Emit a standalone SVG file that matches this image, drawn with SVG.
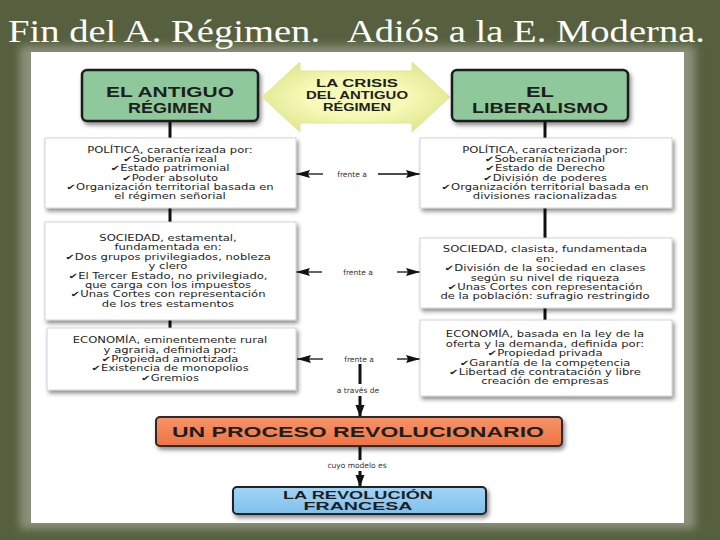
<svg xmlns="http://www.w3.org/2000/svg" width="720" height="540" viewBox="0 0 720 540">
<style>
.t{font-family:"DejaVu Sans","Noto Sans",sans-serif;font-size:8px;fill:#1e1e1e;text-anchor:middle}
.h{font-family:"Liberation Sans",Arial,sans-serif;font-weight:bold;fill:#1e1e1e;text-anchor:middle}
.lbl{font-family:"DejaVu Sans",sans-serif;font-size:7.5px;fill:#333;text-anchor:middle}
.box{fill:#fff;stroke:#c8c8c8;stroke-width:0.8}
.vl{stroke:#111;stroke-width:3;fill:none}
.hl{stroke:#111;stroke-width:1.3;fill:none}
</style>
<defs>
<filter id="sh" x="-10%" y="-15%" width="125%" height="145%"><feDropShadow dx="2" dy="3" stdDeviation="2" flood-color="#000" flood-opacity="0.45"/></filter>
<filter id="blur" x="-5%" y="-5%" width="110%" height="110%"><feGaussianBlur stdDeviation="4"/></filter>
<radialGradient id="yg" cx="50%" cy="50%" r="60%"><stop offset="0.45" stop-color="#f7f9b6"/><stop offset="1" stop-color="#dde48a"/></radialGradient>
<linearGradient id="og" x1="0" y1="0" x2="0" y2="1"><stop offset="0" stop-color="#f6946a"/><stop offset="1" stop-color="#ee7442"/></linearGradient>
<linearGradient id="bg" x1="0" y1="0" x2="0" y2="1"><stop offset="0" stop-color="#a2d4f6"/><stop offset="1" stop-color="#80c0ee"/></linearGradient>
<marker id="ah" viewBox="0 0 14 8" refX="14" refY="4" markerWidth="14" markerHeight="8" markerUnits="userSpaceOnUse" orient="auto"><path d="M0,0 L14,4 L0,8 L2,4 Z" fill="#111"/></marker>
<marker id="ad" viewBox="0 0 12 9" refX="12" refY="4.5" markerWidth="12" markerHeight="11" markerUnits="userSpaceOnUse" orient="auto"><path d="M0,0 L12,4.5 L0,9 Z" fill="#111"/></marker>
</defs>

<rect width="720" height="540" fill="#56603f"/>
<rect x="20" y="46" width="675" height="483" fill="#8a917a" filter="url(#blur)"/>
<rect x="31" y="52" width="653" height="471" fill="#fff"/>

<text x="8" y="42" font-family="Liberation Serif,serif" font-size="32" fill="#fff" textLength="697" lengthAdjust="spacingAndGlyphs" xml:space="preserve">Fin del A. Régimen.   Adiós a la E. Moderna.</text>

<g id="connectors">
<line class="vl" x1="170" y1="121" x2="170" y2="138"/>
<line class="vl" x1="170" y1="208" x2="170" y2="222"/>
<line class="vl" x1="170" y1="320" x2="170" y2="328"/>
<line class="vl" x1="545" y1="121" x2="545" y2="138"/>
<line class="vl" x1="545" y1="208" x2="545" y2="238"/>
<line class="vl" x1="545" y1="308" x2="545" y2="320"/>
<line class="hl" x1="323" y1="174" x2="296" y2="174" marker-end="url(#ah)"/>
<line class="hl" x1="378" y1="174" x2="420" y2="174" marker-end="url(#ah)"/>
<text class="lbl" x="352" y="177">frente a</text>
<line class="hl" x1="322" y1="272" x2="296" y2="272" marker-end="url(#ah)"/>
<line class="hl" x1="397" y1="272" x2="420" y2="272" marker-end="url(#ah)"/>
<text class="lbl" x="358" y="275">frente a</text>
<line class="hl" x1="323" y1="359" x2="297" y2="359" marker-end="url(#ah)"/>
<line class="hl" x1="397" y1="359" x2="420" y2="359" marker-end="url(#ah)"/>
<text class="lbl" x="359" y="362">frente a</text>
<line class="vl" x1="360" y1="364" x2="360" y2="384"/>
<text class="lbl" x="358" y="393">a través de</text>
<line class="vl" x1="360" y1="396" x2="360" y2="417" marker-end="url(#ad)"/>
<line class="vl" x1="360" y1="446" x2="360" y2="460"/>
<text class="lbl" x="357" y="468" font-size="8">cuyo modelo es</text>
<line class="vl" x1="360" y1="471" x2="360" y2="487" marker-end="url(#ad)"/>
</g>

<g id="antiguo-regimen">
<rect x="82" y="70" width="176" height="51" rx="5" fill="#8fc99b" stroke="#1c1c1c" stroke-width="2.5" filter="url(#sh)"/>
<text class="h" x="170" y="97" font-size="14" textLength="128" lengthAdjust="spacingAndGlyphs">EL ANTIGUO</text>
<text class="h" x="170" y="113" font-size="14" textLength="84" lengthAdjust="spacingAndGlyphs">RÉGIMEN</text>
</g>

<g id="crisis">
<path d="M262,97 L300,62 L300,71 L412,71 L412,62 L450,97 L412,132 L412,123 L300,123 L300,132 Z" fill="url(#yg)" stroke="#e2e79a" stroke-width="1"/>
<text class="h" x="357" y="87" font-size="11" textLength="82" lengthAdjust="spacingAndGlyphs">LA CRISIS</text>
<text class="h" x="357" y="99" font-size="11" textLength="102" lengthAdjust="spacingAndGlyphs">DEL ANTIGUO</text>
<text class="h" x="357" y="111" font-size="11" textLength="68" lengthAdjust="spacingAndGlyphs">RÉGIMEN</text>
</g>

<g id="liberalismo">
<rect x="452" y="70" width="176" height="51" rx="5" fill="#8fc99b" stroke="#1c1c1c" stroke-width="2.5" filter="url(#sh)"/>
<text class="h" x="540" y="97" font-size="14" textLength="28" lengthAdjust="spacingAndGlyphs">EL</text>
<text class="h" x="540" y="113" font-size="14" textLength="136" lengthAdjust="spacingAndGlyphs">LIBERALISMO</text>
</g>

<g id="politica-ar">
<rect class="box" x="45" y="138" width="251" height="70" filter="url(#sh)"/>
<g transform="matrix(1.45,0,0,1,-76.5,0)">
<text class="t" x="170" y="152.5">POLÍTICA, caracterizada por:</text>
<text class="t" x="170" y="161.9">✔Soberanía real</text>
<text class="t" x="170" y="171.3">✔Estado patrimonial</text>
<text class="t" x="170" y="180.7">✔Poder absoluto</text>
<text class="t" x="170" y="190.1">✔Organización territorial basada en</text>
<text class="t" x="170" y="199.5">el régimen señorial</text>
</g>
</g>

<g id="politica-lib">
<rect class="box" x="420" y="138" width="252" height="70" filter="url(#sh)"/>
<g transform="matrix(1.45,0,0,1,-245.25,0)">
<text class="t" x="545" y="152.5">POLÍTICA, caracterizada por:</text>
<text class="t" x="545" y="161.9">✔Soberanía nacional</text>
<text class="t" x="545" y="171.3">✔Estado de Derecho</text>
<text class="t" x="545" y="180.7">✔División de poderes</text>
<text class="t" x="545" y="190.1">✔Organización territorial basada en</text>
<text class="t" x="545" y="199.5">divisiones racionalizadas</text>
</g>
</g>

<g id="sociedad-ar">
<rect class="box" x="45" y="222" width="251" height="98" filter="url(#sh)"/>
<g transform="matrix(1.45,0,0,1,-75.6,0)">
<text class="t" x="168" y="241.1">SOCIEDAD, estamental,</text>
<text class="t" x="168" y="250.5">fundamentada en:</text>
<text class="t" x="168" y="259.9">✔Dos grupos privilegiados, nobleza</text>
<text class="t" x="168" y="269.3">y clero</text>
<text class="t" x="168" y="278.7">✔El Tercer Estado, no privilegiado,</text>
<text class="t" x="168" y="288.1">que carga con los impuestos</text>
<text class="t" x="168" y="297.5">✔Unas Cortes con representación</text>
<text class="t" x="168" y="306.9">de los tres estamentos</text>
</g>
</g>

<g id="sociedad-lib">
<rect class="box" x="420" y="238" width="252" height="70" filter="url(#sh)"/>
<g transform="matrix(1.45,0,0,1,-245.25,0)">
<text class="t" x="545" y="252.5">SOCIEDAD, clasista, fundamentada</text>
<text class="t" x="545" y="261.9">en:</text>
<text class="t" x="545" y="271.3">✔División de la sociedad en clases</text>
<text class="t" x="545" y="280.7">según su nivel de riqueza</text>
<text class="t" x="545" y="290.1">✔Unas Cortes con representación</text>
<text class="t" x="545" y="299.5">de la población: sufragio restringido</text>
</g>
</g>

<g id="economia-ar">
<rect class="box" x="47" y="328" width="249" height="62" filter="url(#sh)"/>
<g transform="matrix(1.45,0,0,1,-76.5,0)">
<text class="t" x="170" y="343.2">ECONOMÍA, eminentemente rural</text>
<text class="t" x="170" y="352.6">y agraria, definida por:</text>
<text class="t" x="170" y="362">✔Propiedad amortizada</text>
<text class="t" x="170" y="371.4">✔Existencia de monopolios</text>
<text class="t" x="170" y="380.8">✔Gremios</text>
</g>
</g>

<g id="economia-lib">
<rect class="box" x="420" y="320" width="252" height="76" filter="url(#sh)"/>
<g transform="matrix(1.45,0,0,1,-245.25,0)">
<text class="t" x="545" y="337.5">ECONOMÍA, basada en la ley de la</text>
<text class="t" x="545" y="346.9">oferta y la demanda, definida por:</text>
<text class="t" x="545" y="356.3">✔Propiedad privada</text>
<text class="t" x="545" y="365.7">✔Garantía de la competencia</text>
<text class="t" x="545" y="375.1">✔Libertad de contratación y libre</text>
<text class="t" x="545" y="384.5">creación de empresas</text>
</g>
</g>

<g id="proceso">
<rect x="156" y="417" width="406" height="29" rx="4" fill="url(#og)" stroke="#2a2a2a" stroke-width="2" filter="url(#sh)"/>
<text class="h" x="358" y="437" font-size="14" textLength="372" lengthAdjust="spacingAndGlyphs">UN PROCESO REVOLUCIONARIO</text>
</g>

<g id="revolucion">
<rect x="233" y="487" width="253" height="27" rx="4" fill="url(#bg)" stroke="#222" stroke-width="2" filter="url(#sh)"/>
<text class="h" x="358" y="499" font-size="11" textLength="150" lengthAdjust="spacingAndGlyphs">LA REVOLUCIÓN</text>
<text class="h" x="358" y="510" font-size="11" textLength="109" lengthAdjust="spacingAndGlyphs">FRANCESA</text>
</g>
</svg>
